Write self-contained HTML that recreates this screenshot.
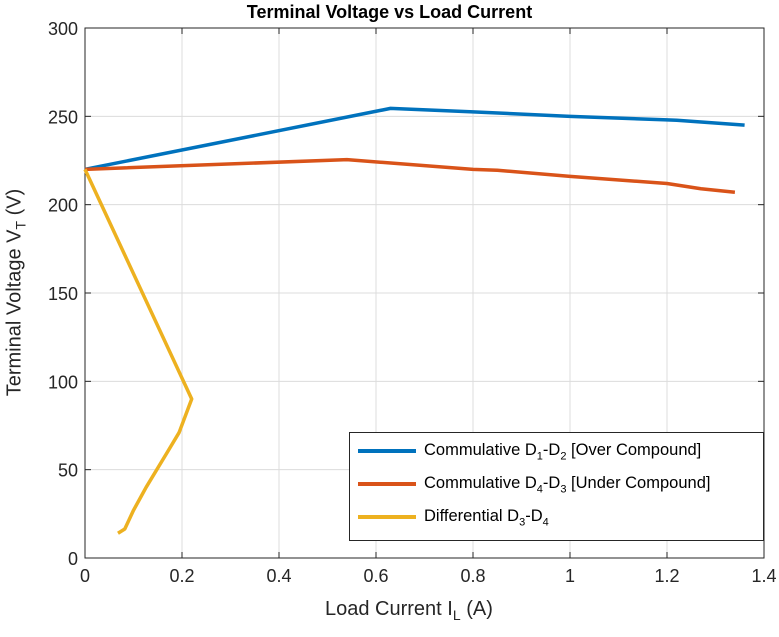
<!DOCTYPE html>
<html><head><meta charset="utf-8"><style>
body{margin:0;background:#fff;font-family:"Liberation Sans",Arial,sans-serif}
svg text{font-family:"Liberation Sans",Arial,sans-serif}
</style></head><body>
<svg id="c" width="779" height="632" xmlns="http://www.w3.org/2000/svg"></svg>
<script>
const xTicks=[0,0.2,0.4,0.6,0.8,1,1.2,1.4];
const yTicks=[0,50,100,150,200,250,300];
const blueX=[0,0.63,0.8,1.0,1.2,1.22,1.36];
const blueY=[220,254.5,252.5,250,248,247.8,245];
const redX=[0,0.54,0.8,0.85,1.0,1.2,1.27,1.34];
const redY=[220,225.5,220,219.5,216,212,209,207];
const yelX=[0,0.22,0.194,0.17,0.126,0.12,0.1,0.082,0.068];
const yelY=[220,90,71,60,40,37,27,16.4,14];
const seriesNames=["Commulative D1-D2 [Over Compound]","Commulative D4-D3 [Under Compound]","Differential D3-D4"];
const L=85,R=764,T=28,B=558;
const sx=v=>L+(v/1.4)*(R-L), sy=v=>B-(v/300)*(B-T);
const svg=document.getElementById('c');const NS="http://www.w3.org/2000/svg";
function el(t,a,p){const e=document.createElementNS(NS,t);for(const k in a)e.setAttribute(k,a[k]);(p||svg).appendChild(e);return e;}
let bg=el('rect',{x:L,y:T,width:R-L,height:B-T,fill:'#fff'});


xTicks.forEach(v=>{const x=sx(v);
 const g=el('line',{x1:x,x2:x,y1:T,y2:B,stroke:'#dcdcdc','stroke-width':1});
 
 
 el('line',{x1:x,x2:x,y1:B,y2:B-6,stroke:'#262626'});el('line',{x1:x,x2:x,y1:T,y2:T+6,stroke:'#262626'});
 const t=el('text',{x:x,y:B+24,'text-anchor':'middle','font-size':18,fill:'#262626'});t.textContent=String(v);
 
 });
yTicks.forEach(v=>{const y=sy(v);
 const g=el('line',{x1:L,x2:R,y1:y,y2:y,stroke:'#dcdcdc','stroke-width':1});
 
 
 el('line',{x1:L,x2:L+6,y1:y,y2:y,stroke:'#262626'});el('line',{x1:R,x2:R-6,y1:y,y2:y,stroke:'#262626'});
 const t=el('text',{x:L-7,y:y+7,'text-anchor':'end','font-size':18,fill:'#262626'});t.textContent=String(v);
 
 });
const ax=el('rect',{x:L,y:T,width:R-L,height:B-T,fill:'none',stroke:'#262626','stroke-width':1});


function line(xs,ys,c,n){const p=el('polyline',{points:xs.map((x,i)=>sx(x)+','+sy(ys[i])).join(' '),fill:'none',stroke:c,'stroke-width':3.5,'stroke-linejoin':'round'});
 
 }
line(blueX,blueY,'#0072bd','series-over-compound');
line(redX,redY,'#d95319','series-under-compound');
line(yelX,yelY,'#edb120','series-differential');
</script>
<div style="position:absolute;left:0;top:0;width:779px;height:632px;pointer-events:none">
<div style="position:absolute;left:0;width:779px;top:2px;text-align:center;font-weight:bold;font-size:18px;color:#000">Terminal Voltage vs Load Current</div>
<div style="position:absolute;left:325px;top:598px;font-size:20px;color:#262626">Load Current I<sub style="font-size:14px">L</sub> (A)</div>
<div style="position:absolute;left:-94px;top:280px;width:220px;text-align:center;font-size:20px;color:#262626;transform:rotate(-90deg)">Terminal Voltage V<sub style="font-size:14px">T</sub> (V)</div>
<div style="position:absolute;left:349px;top:432px;width:413px;height:107px;border:1px solid #262626;background:#fff;font-size:16.5px;color:#000">
 <div style="position:absolute;left:8px;top:8px;white-space:nowrap"><span style="display:inline-block;width:58px;height:4px;background:#0072bd;vertical-align:middle;margin-right:8px"></span>Commulative D<sub style="font-size:11px">1</sub>-D<sub style="font-size:11px">2</sub> [Over Compound]</div>
 <div style="position:absolute;left:8px;top:41px;white-space:nowrap"><span style="display:inline-block;width:58px;height:4px;background:#d95319;vertical-align:middle;margin-right:8px"></span>Commulative D<sub style="font-size:11px">4</sub>-D<sub style="font-size:11px">3</sub> [Under Compound]</div>
 <div style="position:absolute;left:8px;top:74px;white-space:nowrap"><span style="display:inline-block;width:58px;height:4px;background:#edb120;vertical-align:middle;margin-right:8px"></span>Differential D<sub style="font-size:11px">3</sub>-D<sub style="font-size:11px">4</sub></div>
</div>
</div>
</body></html>
